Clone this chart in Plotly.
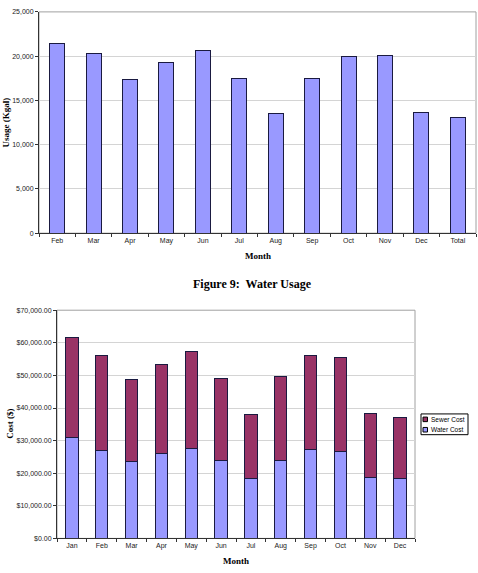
import plotly.graph_objects as go

usage_months = ["Feb", "Mar", "Apr", "May", "Jun", "Jul", "Aug", "Sep", "Oct", "Nov", "Dec", "Total"]
usage_kgal = [21400, 20300, 17400, 19250, 20600, 17450, 13500, 17500, 20000, 20050, 13600, 13050]

cost_months = ["Jan", "Feb", "Mar", "Apr", "May", "Jun", "Jul", "Aug", "Sep", "Oct", "Nov", "Dec"]
water_cost = [30800, 27000, 23600, 25900, 27700, 23900, 18500, 23900, 27400, 26800, 18800, 18400]
sewer_cost = [30800, 29000, 25000, 27500, 29500, 25000, 19400, 25700, 28600, 28700, 19600, 18800]

WATER_COLOR = "#9999FF"
SEWER_COLOR = "#993366"
OUTLINE = "#1a1a40"

W, H = 478, 573
def px_x(p): return p / W
def px_y(p): return 1 - p / H

tick_font = dict(family="Liberation Sans, Arial", size=7, color="#222")
title_font = dict(family="Liberation Serif, Times New Roman", size=9, color="#000")

fig = go.Figure()
fig.add_trace(go.Bar(x=usage_months, y=usage_kgal, xaxis="x", yaxis="y",
                     marker=dict(color=WATER_COLOR, line=dict(color=OUTLINE, width=1)),
                     showlegend=False))
fig.add_trace(go.Bar(x=cost_months, y=water_cost, name="Water Cost", xaxis="x2", yaxis="y2",
                     marker=dict(color=WATER_COLOR, line=dict(color=OUTLINE, width=1)),
                     showlegend=False))
fig.add_trace(go.Bar(x=cost_months, y=sewer_cost, name="Sewer Cost", xaxis="x2", yaxis="y2",
                     marker=dict(color=SEWER_COLOR, line=dict(color=OUTLINE, width=1)),
                     showlegend=False))

axis_common = dict(showline=True, linecolor="#333", linewidth=1, ticks="outside",
                   ticklen=3, tickcolor="#333", tickfont=tick_font, zeroline=False)

fig.update_layout(
    width=W, height=H, margin=dict(l=0, r=0, t=0, b=0),
    paper_bgcolor="white", plot_bgcolor="white",
    barmode="stack", bargap=0.59, showlegend=False,
    xaxis=dict(domain=[px_x(39), px_x(476)], anchor="y", tickson="boundaries",
               showgrid=False, **axis_common),
    yaxis=dict(domain=[px_y(232), px_y(8)], anchor="x", range=[0, 25000], dtick=5000,
               tickformat=",d", showgrid=True, gridcolor="#d4d4d4", gridwidth=1, **axis_common),
    xaxis2=dict(domain=[px_x(57), px_x(415)], anchor="y2", tickson="boundaries",
                showgrid=False, **axis_common),
    yaxis2=dict(domain=[px_y(541), px_y(310)], anchor="x2", range=[0, 70000], dtick=10000,
                tickformat=",.2f", tickprefix="$", showgrid=True, gridcolor="#d4d4d4", gridwidth=1,
                **axis_common),
)

# plot area borders
fig.add_shape(type="rect", xref="x domain", yref="y domain", x0=0, x1=1, y0=0, y1=1,
              line=dict(color="#a0a0a0", width=1), layer="below")
fig.add_shape(type="rect", xref="x2 domain", yref="y2 domain", x0=0, x1=1, y0=0, y1=1,
              line=dict(color="#a0a0a0", width=1), layer="below")

# compact legend (box, swatches, labels)
fig.add_shape(type="rect", xref="paper", yref="paper",
              x0=px_x(421), x1=px_x(468), y0=px_y(436), y1=px_y(415),
              line=dict(color="#000", width=1), fillcolor="white")
legend_items = [("Sewer Cost", SEWER_COLOR, 420.5), ("Water Cost", WATER_COLOR, 431)]
for name, col, cy in legend_items:
    fig.add_shape(type="rect", xref="paper", yref="paper",
                  x0=px_x(423), x1=px_x(427.5), y0=px_y(cy + 2.3), y1=px_y(cy - 2.3),
                  line=dict(color="#000", width=1), fillcolor=col)
    fig.add_annotation(text=name, xref="paper", yref="paper", x=px_x(428.5), y=px_y(cy),
                       xanchor="left", yanchor="middle", showarrow=False,
                       font=dict(family="Liberation Sans, Arial", size=6.5, color="#000"))

anns = [
    dict(text="<b>Usage (Kgal)</b>", x=px_x(6), y=px_y(120), textangle=-90, font=title_font),
    dict(text="<b>Month</b>", x=px_x(258), y=px_y(255), font=title_font),
    dict(text="<b>Figure 9:  Water Usage</b>", x=px_x(252), y=px_y(283),
         font=dict(family="Liberation Serif, Times New Roman", size=12, color="#000")),
    dict(text="<b>Cost ($)</b>", x=px_x(10), y=px_y(425), textangle=-90, font=title_font),
    dict(text="<b>Month</b>", x=px_x(236), y=px_y(564), font=title_font),
]
for a in anns:
    fig.add_annotation(xref="paper", yref="paper", showarrow=False,
                       xanchor="center", yanchor="middle", **a)

fig.write_html("out.html")
